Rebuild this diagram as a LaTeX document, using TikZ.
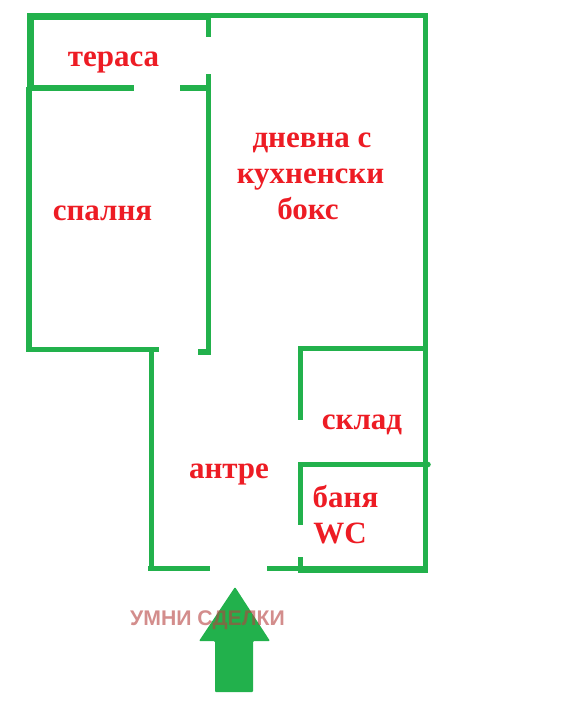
\documentclass[tikz,border=0pt]{standalone}
\usepackage{fontspec}
\setmainfont{Liberation Serif}
\newfontfamily\markfont{Liberation Sans}
\definecolor{wallgreen}{HTML}{22B14C}
\definecolor{labelred}{HTML}{ED1C24}
\definecolor{markred}{HTML}{B5413F}
\tikzset{
  wall/.style={
    draw=wallgreen,
    line width=5.5pt
  },
  heavywall/.style={
    draw=wallgreen,
    line width=7pt
  },
  room/.style={
    text=labelred,
    anchor=base,
    inner sep=0pt,
    font=\bfseries\fontsize{31}{31}\selectfont
  },
  watermark/.style={
    text=markred,
    text opacity=0.6,
    anchor=base,
    inner sep=0pt,
    font=\markfont\bfseries\fontsize{21.2}{21.2}\selectfont
  }
}

\begin{document}
\begin{tikzpicture}[x=1pt, y=-1pt]
\useasboundingbox (0,0) rectangle (588,715);

% walls

%% outer
\draw [heavywall] (208,16.5) -- (30,16.5) -- (30,90);
\draw [wall] (206,15.5) -- (425.5,15.5) -- (425.5,572);
\draw [wall] (29,87) -- (29,349.5) -- (159,349.5);
\draw [wall] (151.5,349.5) -- (151.5,568.5);
\draw [wall] (148,568.5) -- (210,568.5);
\draw [wall] (267,568.5) -- (300,568.5);
\draw [heavywall] (298,569) -- (428,569);

%% terrace
\draw [wall] (30,88) -- (134,88);
\draw [wall] (180,88) -- (208,88);
\draw [wall] (208.5,13) -- (208.5,37);
\draw [wall] (208.5,74) -- (208.5,352) -- (198,352);

%% storage and bath
\draw [wall] (425,348.5) -- (300.5,348.5) -- (300.5,420);
\draw [wall] (300.5,462) -- (300.5,525);
\draw [wall] (300.5,557) -- (300.5,570);
\draw [wall] (303,464.5) -- (428,464.5);
\fill [wallgreen] (428,464.5) circle (2.75);

% entrance
\fill [wallgreen, rounded corners=1pt] (235,587) -- (270,641) -- (253,641) -- (253,692)
  -- (215,692) -- (215,641) -- (199,641) -- cycle;

% labels
\node[room] (terrace) at (113.5,66.5) {тераса};
\node[room] (living1) at (312,147) {дневна с};
\node[room] (living2) at (310.5,183) {кухненски};
\node[room] (living3) at (308,219) {бокс};
\node[room] (bedroom) at (102.5,220) {спалня};
\node[room] (storage) at (362,429) {склад};
\node[room] (hall) at (229,478) {антре};
\node[room] (bath1) at (345.5,507) {баня};
\node[room] (bath2) at (340,543) {WC};
\node[watermark] (mark) at (207.5,625) {УМНИ СДЕЛКИ};
\end{tikzpicture}
\end{document}
